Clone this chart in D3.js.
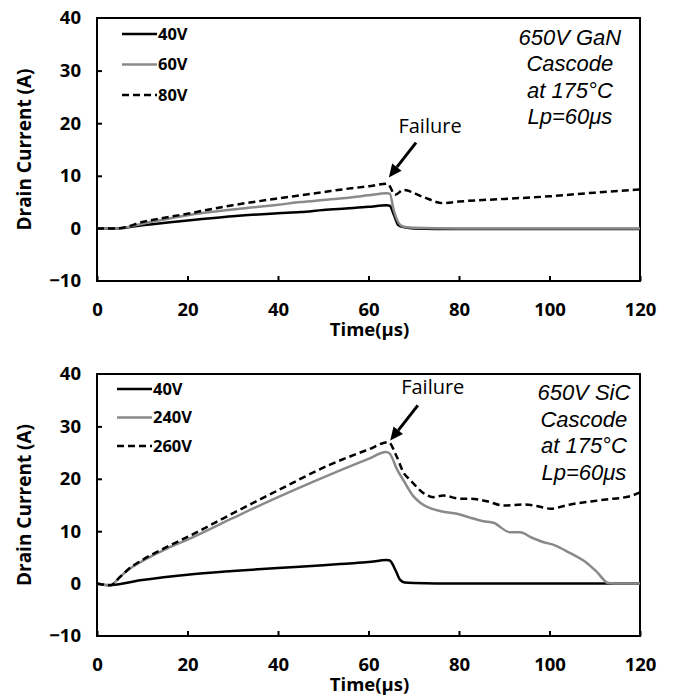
<!DOCTYPE html>
<html>
<head>
<meta charset="utf-8">
<script src="https://cdn.jsdelivr.net/npm/d3@7"></script>
<style>
    body { margin: 0; background: #fff; }
    .tick text { font-family: "Open Sans", sans-serif; font-weight: bold; font-size: 18.5px; fill: #000; }
    .tick line { stroke: #000; stroke-width: 2px; }
</style>
</head>
<body>
<div id="chart"></div>
<script>

// ---- data ----
let xTicks = [0, 20, 40, 60, 80, 100, 120];
let yTicks = [-10, 0, 10, 20, 30, 40];

// GaN cascode panel
let gan40T = [0, 4.5, 10, 20, 30, 40, 45, 50, 55, 60, 64, 64.7, 65.6, 66.6, 68, 70, 80, 100, 120];
let gan40I = [0, 0, 0.6, 1.5, 2.3, 2.9, 3.1, 3.5, 3.8, 4.1, 4.4, 4.3, 2.6, 0.6, 0.2, 0, -0.1, -0.1, -0.1];
let gan60T = [0, 4.5, 10, 20, 30, 40, 45, 50, 55, 60, 64, 64.7, 65.6, 67.1, 68.5, 70, 80, 100, 120];
let gan60I = [0, 0, 0.9, 2.5, 3.6, 4.5, 5.0, 5.4, 5.8, 6.3, 6.7, 6.6, 3.4, 0.6, 0.2, 0.1, 0, 0, 0];
let gan80T = [0, 4.5, 10, 20, 30, 40, 45, 50, 55, 60, 64.2, 65.9, 67.7, 72, 76.5, 80, 90, 100, 110, 120];
let gan80I = [0, 0, 1.2, 2.8, 4.4, 5.7, 6.3, 6.9, 7.5, 8.0, 8.5, 6.4, 7.3, 6.0, 4.8, 5.1, 5.6, 6.1, 6.8, 7.4];

// SiC cascode panel
let sic40T = [0, 2.5, 10, 20, 30, 40, 50, 55, 60, 64, 64.7, 66, 67, 68, 70, 80, 100, 120];
let sic40I = [0, -0.3, 0.7, 1.7, 2.4, 3.0, 3.5, 3.8, 4.1, 4.5, 4.4, 2.5, 0.7, 0.2, 0.1, 0, 0, 0];
let sic240T = [0, 3, 5, 7, 10, 15, 20, 30, 40, 51.5, 60, 63.9, 64.7, 66.3, 67.8, 69.9, 71.5, 73.6, 76, 80.2, 82.4, 85.4, 87.6, 91.3, 93.5, 96,
    98.7, 100.9, 104.6, 108.3, 110.5, 113, 116, 120];
let sic240I = [0, -0.3, 1.2, 2.7, 4.3, 6.5, 8.4, 12.5, 16.5, 20.8, 23.8, 25.1, 24.8, 21.8, 19.6, 16.7, 15.4, 14.4, 13.8, 13.2, 12.6, 11.9, 11.6, 9.8, 9.8, 8.8,
    7.9, 7.4, 5.8, 3.9, 2.2, 0.1, 0, 0];
let sic260T = [0, 3, 5, 7, 10, 15, 20, 30, 40, 51.5, 60, 64.4, 66.2, 67.8, 69.2, 72.1, 74.3, 76.5, 80.2, 82.4, 86.2, 89.9, 94.3, 97.2, 100.2,
    104.6, 112, 117.9, 120];
let sic260I = [0, -0.3, 1.2, 2.8, 4.5, 6.8, 8.9, 13.4, 17.8, 22.7, 25.6, 27.0, 24.3, 21.1, 19.8, 17.3, 16.5, 16.8, 16.2, 16.2, 15.7, 14.9, 15.1, 14.8, 14.3,
    15.1, 16.0, 16.7, 17.4];

let ganLegend = ["40V", "60V", "80V"];
let sicLegend = ["40V", "240V", "260V"];
let ganNote = ["650V GaN", "Cascode", "at 175°C", "Lp=60μs"];
let sicNote = ["650V SiC", "Cascode", "at 175°C", "Lp=60μs"];

// series styles: black, gray, dashed
let styles = [
    {color: "#000", dash: null},
    {color: "#8a8a8a", dash: null},
    {color: "#000", dash: "7,4"}
];

let svg = d3.select("#chart").append("svg")
    .attr("width", 674)
    .attr("height", 697);

function drawPanel(cfg) {
    let x = d3.scaleLinear().domain([0, 120]).range([97, 640]);
    let y = d3.scaleLinear().domain([-10, 40]).range([cfg.bottom, cfg.top]);

    let g = svg.append("g");

    // axes with inward ticks
    g.append("g")
        .attr("transform", `translate(0,${cfg.bottom})`)
        .call(d3.axisBottom(x).tickValues(xTicks).tickSizeInner(-5).tickSizeOuter(0).tickPadding(22))
        .call(a => a.select(".domain").remove());

    g.append("g")
        .attr("transform", "translate(97,0)")
        .call(d3.axisLeft(y).tickValues(yTicks).tickSizeInner(-5).tickSizeOuter(0).tickPadding(16))
        .call(a => a.select(".domain").remove())
        .call(a => a.selectAll(".tick line").filter(d => d === 40 || d === -10).remove());

    // frame
    g.append("rect")
        .attr("x", x(0))
        .attr("y", y(40))
        .attr("width", x(120) - x(0))
        .attr("height", y(-10) - y(40))
        .attr("fill", "none")
        .attr("stroke", "#000")
        .attr("stroke-width", 2);

    // axis titles
    g.append("text")
        .attr("x", (x(0) + x(120)) / 2 + 1)
        .attr("y", cfg.bottom + 55)
        .attr("text-anchor", "middle")
        .style("font-family", "Open Sans, sans-serif")
        .style("font-weight", "bold")
        .style("font-size", "18.5px")
        .text("Time(μs)");

    g.append("text")
        .attr("transform", `translate(31,${(cfg.top + cfg.bottom) / 2}) rotate(-90)`)
        .attr("text-anchor", "middle")
        .style("font-family", "Open Sans, sans-serif")
        .style("font-weight", "bold")
        .style("font-size", "19px")
        .text("Drain Current (A)");

    // curves
    let line = d3.line()
        .x(d => x(d[0]))
        .y(d => y(d[1]))
        .curve(d3.curveMonotoneX);

    cfg.series.forEach((s, i) => {
        let pts = s.t.map((t, j) => [t, s.i[j]]);
        g.append("path")
            .datum(pts)
            .attr("d", line)
            .attr("fill", "none")
            .attr("stroke", styles[i].color)
            .attr("stroke-width", 2.5)
            .attr("stroke-dasharray", styles[i].dash);
    });

    // legend
    let leg = g.append("g")
        .attr("transform", `translate(${cfg.legX},${cfg.top + cfg.legY})`);
    cfg.legend.forEach((name, i) => {
        leg.append("line")
            .attr("x1", 0).attr("x2", 35)
            .attr("y1", i * cfg.legStep).attr("y2", i * cfg.legStep)
            .attr("stroke", styles[i].color)
            .attr("stroke-width", 2.5)
            .attr("stroke-dasharray", styles[i].dash);
        leg.append("text")
            .attr("x", 36)
            .attr("y", i * cfg.legStep)
            .attr("dy", "0.36em")
            .style("font-family", "Open Sans, sans-serif")
            .style("font-weight", "bold")
            .style("font-size", "16.5px")
            .text(name);
    });

    // device note
    cfg.note.forEach((txt, i) => {
        g.append("text")
            .attr("x", x(cfg.noteT))
            .attr("y", y(cfg.noteI) + i * 26.5)
            .attr("text-anchor", "middle")
            .style("font-family", "Liberation Sans, Arial, sans-serif")
            .style("font-style", "italic")
            .style("font-size", "22px")
            .text(txt);
    });

    // failure arrow
    g.append("text")
        .attr("x", x(cfg.failText[0]))
        .attr("y", y(cfg.failText[1]))
        .attr("text-anchor", "middle")
        .style("font-family", "Open Sans, sans-serif")
        .style("font-size", "20px")
        .text("Failure");

    let x1 = x(cfg.arrowFrom[0]), y1 = y(cfg.arrowFrom[1]);
    let x2 = x(cfg.arrowTo[0]), y2 = y(cfg.arrowTo[1]);
    let ang = Math.atan2(y2 - y1, x2 - x1);
    let headLen = 13, headW = 6;
    let bx = x2 - headLen * Math.cos(ang), by = y2 - headLen * Math.sin(ang);
    g.append("line")
        .attr("x1", x1).attr("y1", y1)
        .attr("x2", bx).attr("y2", by)
        .attr("stroke", "#000")
        .attr("stroke-width", 3);
    g.append("path")
        .attr("d", `M${x2},${y2}L${bx + headW * Math.sin(ang)},${by - headW * Math.cos(ang)}L${bx - headW * Math.sin(ang)},${by + headW * Math.cos(ang)}Z`)
        .attr("fill", "#000");
}

drawPanel({
    top: 18, bottom: 281,
    series: [{t: gan40T, i: gan40I}, {t: gan60T, i: gan60I}, {t: gan80T, i: gan80I}],
    legend: ganLegend, legX: 122, legY: 16, legStep: 30.5,
    note: ganNote, noteT: 104.5, noteI: 34.9,
    failText: [73.6, 18.2], arrowFrom: [70.5, 16.3], arrowTo: [64.5, 9.7]
});

drawPanel({
    top: 374, bottom: 636,
    series: [{t: sic40T, i: sic40I}, {t: sic240T, i: sic240I}, {t: sic260T, i: sic260I}],
    legend: sicLegend, legX: 117, legY: 15, legStep: 28.5,
    note: sicNote, noteT: 107.6, noteI: 35.0,
    failText: [74.2, 36.1], arrowFrom: [70.9, 34.0], arrowTo: [64.8, 27.3]
});

</script>
</body>
</html>
